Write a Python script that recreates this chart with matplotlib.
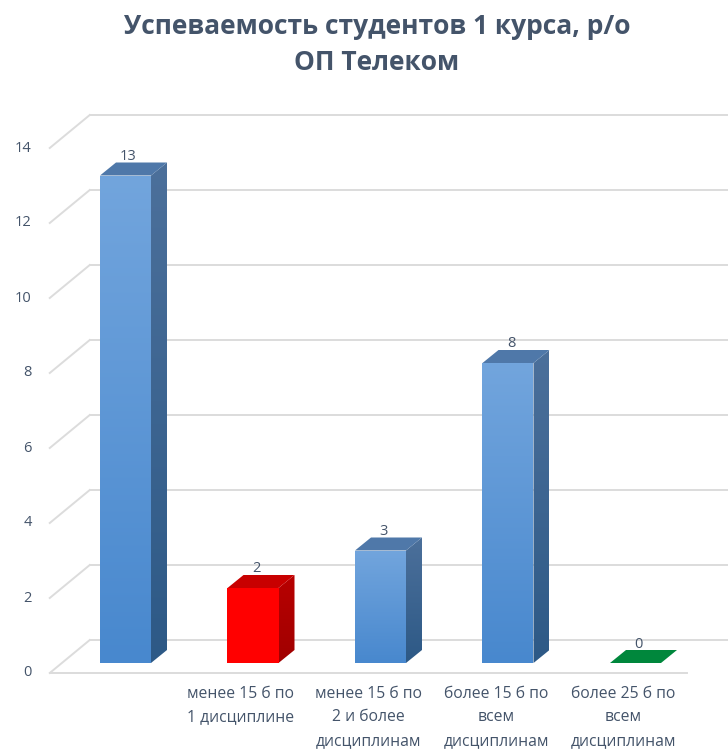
import numpy as np
import matplotlib
matplotlib.use("Agg")
import matplotlib.pyplot as plt
from matplotlib.patches import Polygon
from matplotlib.colors import LinearSegmentedColormap

# ---- data ----
categories = ["", "менее 15 б по\n1 дисциплине", "менее 15 б по\n2 и более\nдисциплинам",
              "более 15 б по\nвсем\nдисциплинам", "более 25 б по\nвсем\nдисциплинам"]
values = [13, 2, 3, 8, 0]
yticks = [0, 2, 4, 6, 8, 10, 12, 14]
title = "Успеваемость студентов 1 курса, р/о\nОП Телеком"

# ---- styles ----
bar_kinds = ["blue", "red", "blue", "blue", "green"]
palette = {
    "blue": dict(front_top="#72A5DD", front_bot="#4888CE", side_top="#4C709B", side_bot="#2D5986", top="#4F78A9"),
    "red": dict(front_top="#FF0000", front_bot="#FF0000", side_top="#B80000", side_bot="#A00000", top="#C80000"),
    "green": dict(front_top="#00873C", front_bot="#00873C", side_top="#006A2E", side_bot="#006A2E", top="#00873C"),
}
text_col = "#44546A"
grid_col = "#DCDCDC"

W, H = 728, 753
fig = plt.figure(figsize=(W / 100, H / 100), dpi=100)
ax = fig.add_axes([0, 0, 1, 1])
ax.axis("off")

# pixel geometry (bar front plane)
px_per_cat = 127.5
px_per_unit = 37.5
x0_px = 125.5   # center of category 0 front face
y0_px = 663.0   # zero of bar front plane
ax.set_xlim((0 - x0_px) / px_per_cat, (W - x0_px) / px_per_cat)
ax.set_ylim((y0_px - H) / px_per_unit, (y0_px - 0) / px_per_unit)

def off(dx_px, dy_px):
    # dx right, dy up in pixels -> data offsets
    return dx_px / px_per_cat, dy_px / px_per_unit

front_dx, front_dy = off(-12, -10)   # front plane (ticks / floor front edge)
back_dx, back_dy = off(28, 23)       # back wall plane
bar_dx, bar_dy = off(16, 13)         # bar depth

n = len(categories)
xs = np.arange(n)
xl, xr = -0.5, n - 0.5
bw = 0.4

# gridlines: back wall and left side wall
for v in yticks:
    ax.plot([xl + back_dx, xr + back_dx + 0.1], [v + back_dy, v + back_dy], color=grid_col, lw=1.4, zorder=1)
    ax.plot([xl + front_dx, xl + back_dx], [v + front_dy, v + back_dy], color=grid_col, lw=1.4, zorder=1)
# floor front edge
ax.plot([xl + front_dx, xr + front_dx], [front_dy, front_dy], color=grid_col, lw=1.4, zorder=1)

# tick labels
for v in yticks:
    ax.text(xl + front_dx - 18 / px_per_cat, v + front_dy, str(v), ha="right", va="center",
            fontsize=10.5, color=text_col, family=["Open Sans", "DejaVu Sans"])

# bars
bars = ax.bar(xs, values, width=bw, color="none", edgecolor="none", zorder=3)
grad = np.linspace(0, 1, 256).reshape(-1, 1)
for i, (rect, v) in enumerate(zip(bars, values)):
    c = palette[bar_kinds[i]]
    x_left = rect.get_x()
    x_right = x_left + rect.get_width()
    if v > 0:
        cmap = LinearSegmentedColormap.from_list("g", [c["front_bot"], c["front_top"]])
        im = ax.imshow(grad, cmap=cmap, origin="lower", aspect="auto",
                       extent=[x_left, x_right, 0, v], zorder=3)
        im.set_clip_path(rect)
        side = Polygon([[x_right, 0], [x_right + bar_dx, bar_dy], [x_right + bar_dx, v + bar_dy], [x_right, v]],
                       closed=True, facecolor="none", edgecolor="none", zorder=3)
        ax.add_patch(side)
        cmap2 = LinearSegmentedColormap.from_list("s", [c["side_bot"], c["side_top"]])
        im2 = ax.imshow(grad, cmap=cmap2, origin="lower", aspect="auto",
                        extent=[x_right, x_right + bar_dx, 0, v + bar_dy], zorder=3)
        im2.set_clip_path(side)
    top = Polygon([[x_left, v], [x_right, v], [x_right + bar_dx, v + bar_dy], [x_left + bar_dx, v + bar_dy]],
                  closed=True, facecolor=c["top"], edgecolor="none", zorder=4)
    ax.add_patch(top)
    lx, ly = off(3, 6)
    ax.text(rect.get_x() + rect.get_width() / 2 + lx, v + bar_dy + ly, str(v), ha="center", va="center",
            fontsize=10.5, color=text_col, zorder=5, family=["Open Sans", "DejaVu Sans"])

# category labels
for i, lab in enumerate(categories):
    if lab:
        ax.text(i + front_dx, (y0_px - 686) / px_per_unit, lab, ha="center", va="top",
                fontsize=11.3, color=text_col, linespacing=1.62, family=["Open Sans", "DejaVu Sans"])

ax.set_xlim((0 - x0_px) / px_per_cat, (W - x0_px) / px_per_cat)
ax.set_ylim((y0_px - H) / px_per_unit, (y0_px - 0) / px_per_unit)

fig.text(377 / W, 1 - 13 / H, title, ha="center", va="top", fontsize=19, fontweight="bold",
         color=text_col, linespacing=1.45, family=["Open Sans", "DejaVu Sans"])

fig.savefig("out.png", dpi=100)
